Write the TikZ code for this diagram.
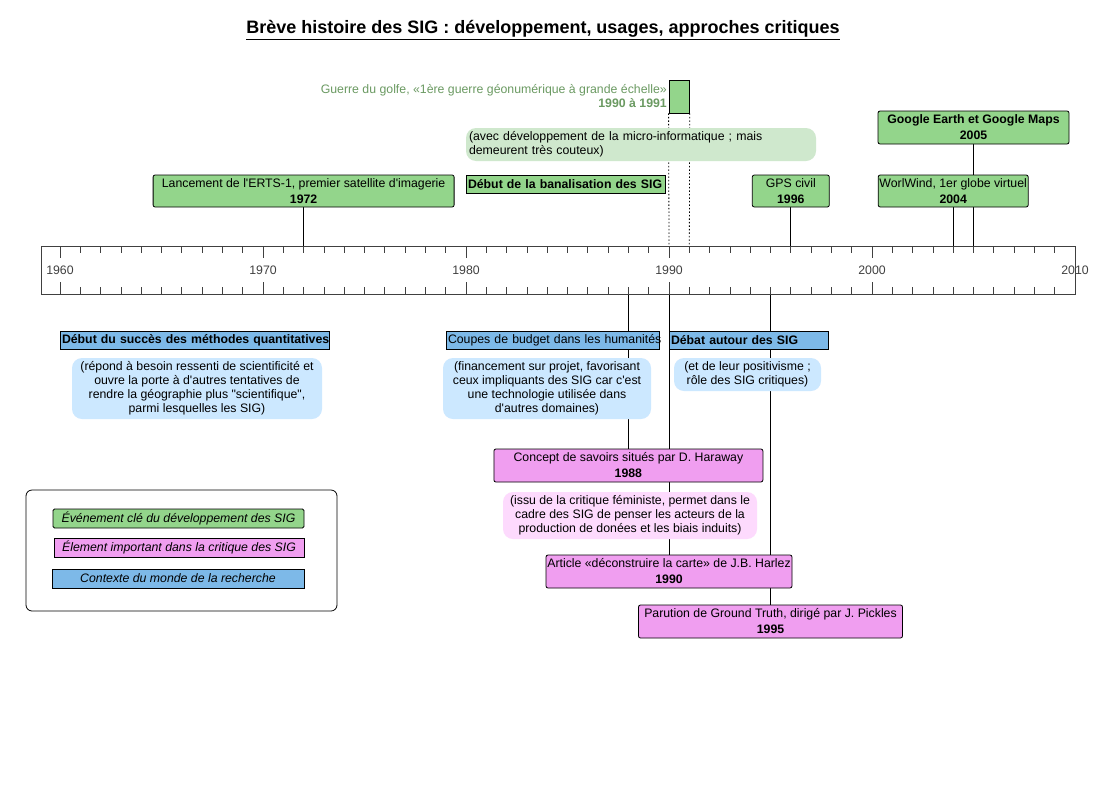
\documentclass[tikz,border=0pt]{standalone}
\usepackage{fontspec}
\setmainfont{Liberation Sans}[Ligatures=TeXOff]
\usetikzlibrary{backgrounds}
\definecolor{evgreen}{HTML}{93D58B}
\definecolor{evpink}{HTML}{F09EF0}
\definecolor{ctxblue}{HTML}{7DB9E8}
\definecolor{notegreen}{HTML}{CFE8CD}
\definecolor{noteblue}{HTML}{CCE8FF}
\definecolor{notepink}{HTML}{FDDAFD}
\definecolor{golfgreen}{HTML}{6B9A62}
\definecolor{axisgray}{HTML}{404040}
\newcommand{\fsz}{\fontsize{12.3}{16}\selectfont}
\newcommand{\fsn}{\fontsize{12.3}{14}\selectfont}
\begin{document}
\begin{tikzpicture}[x=1pt,y=-1pt,
  base/.style={font=\fsz, inner sep=0pt, align=center},
  evt/.style={base, draw=black, line width=0.8pt, rounded corners=2pt, fill=evgreen},
  crit/.style={evt, fill=evpink},
  ctxbox/.style={base, draw=black, line width=0.8pt, fill=ctxblue, align=left, inner xsep=2pt},
  notebox/.style={base, rounded corners=10pt, font=\fsn},
  legitem/.style={base, draw=black, line width=0.8pt, font=\fsn\itshape},
  conn/.style={line width=0.8pt, black},
  axisline/.style={line width=0.8pt, axisgray},
]
\path[use as bounding box] (0,0) rectangle (1115,790);

% title
\node[font=\fontsize{18}{21}\selectfont\bfseries] (title) at (543,30) {\underline{Brève histoire des SIG : développement, usages, approches critiques}};

% axis
\draw[axisline] (41,246) rectangle (1075,294);
\foreach \i in {0,...,50}{
  \pgfmathsetmacro\xx{60+\i*20.3}
  \pgfmathsetmacro\ll{mod(\i,10)==0 ? 12 : 7}
  \draw[axisline] (\xx,246) -- ++(0,\ll);
  \draw[axisline] (\xx,294) -- ++(0,-\ll);
}
\foreach \yr in {1960,1970,...,2010}{
  \pgfmathsetmacro\xx{60+(\yr-1960)*20.3}
  \node[font=\fontsize{12.3}{14}\selectfont, text=axisgray] (lab\yr) at (\xx,270) {\yr};
}
\coordinate (t1972) at (303.6,246);
\coordinate (t1990) at (669,246);
\coordinate (t1991) at (689.3,246);
\coordinate (t1996) at (790.8,246);
\coordinate (t2004) at (953.2,246);
\coordinate (t2005) at (973.5,246);
\coordinate (b1988) at (628.4,294);
\coordinate (b1990) at (669,294);
\coordinate (b1995) at (770.5,294);

% top events
\node[evt, minimum width=301, minimum height=32] (erts) at (303.6,191) {Lancement de l'ERTS-1, premier satellite d'imagerie\\\textbf{1972}};
\node[evt, rounded corners=0pt, align=left, inner xsep=2pt, text width=195, minimum height=18, font=\fsz\bfseries] (banal) at (565.5,184) {\mbox{Début de la banalisation des SIG}};
\node[notebox, fill=notegreen, align=left, inner xsep=3pt, text width=344, minimum height=33] (notemicro) at (641,144.5) {(avec développement de la micro-informatique ; mais\\demeurent très couteux)};
\node[evt, rounded corners=0pt, minimum width=20.3, minimum height=33] (golfe) at (679.15,96.5) {};
\node[base, anchor=east, align=right, text=golfgreen, font=\fsn] (golfetxt) at (667,96) {Guerre du golfe, «1ère guerre géonumérique à grande échelle»\\\textbf{1990 à 1991}};
\node[evt, minimum width=77, minimum height=32] (gps) at (790.8,191) {GPS civil\\\textbf{1996}};
\node[evt, minimum width=150, minimum height=32] (worl) at (953.2,191) {WorlWind, 1er globe virtuel\\\textbf{2004}};
\node[evt, minimum width=191, minimum height=33, font=\fsz\bfseries] (google) at (973.5,127.5) {Google Earth et Google Maps\\2005};

% bottom context
\node[ctxbox, text width=265, minimum height=18, font=\fsz\bfseries] (quanti) at (194.5,340) {\mbox{Début du succès des méthodes quantitatives}};
\node[notebox, fill=noteblue, minimum width=250, minimum height=61] (notequanti) at (197,388.5) {(répond à besoin ressenti de scientificité et\\ouvre la porte à d'autres tentatives de\\rendre la géographie plus "scientifique",\\parmi lesquelles les SIG)};
\node[ctxbox, text width=209, minimum height=18] (coupes) at (552.5,340) {\mbox{Coupes de budget dans les humanités}};
\node[notebox, fill=noteblue, minimum width=208, minimum height=61] (notecoupes) at (547,388.5) {(financement sur projet, favorisant\\ceux impliquants des SIG car c'est\\une technologie utilisée dans\\d'autres domaines)};
\node[ctxbox, text width=155, minimum height=18, font=\fsz\bfseries] (debat) at (748.5,340) {\mbox{Débat autour des SIG}};
\node[notebox, fill=noteblue, minimum width=147, minimum height=33] (notedebat) at (747.5,374.5) {(et de leur positivisme ;\\rôle des SIG critiques)};

% critique events
\node[crit, minimum width=269, minimum height=33] (concept) at (628.4,465.5) {Concept de savoirs situés par D. Haraway\\\textbf{1988}};
\node[notebox, fill=notepink, minimum width=254, minimum height=47] (noteconcept) at (630,515.5) {(issu de la critique féministe, permet dans le\\cadre des SIG de penser les acteurs de la\\production de donées et les biais induits)};
\node[crit, minimum width=246, minimum height=33] (harlez) at (669,571.5) {Article «déconstruire la carte» de J.B. Harlez\\\textbf{1990}};
\node[crit, minimum width=264, minimum height=33] (ground) at (770.5,621.5) {Parution de Ground Truth, dirigé par J. Pickles\\\textbf{1995}};

% legend
\node[draw=black, line width=0.8pt, rounded corners=6pt, minimum width=311, minimum height=121] (legend) at (181.5,550.5) {};
\node[legitem, fill=evgreen, rounded corners=1.5pt, minimum width=251, minimum height=19] (leggreen) at (178.5,518.5) {Événement clé du développement des SIG};
\node[legitem, fill=evpink, minimum width=250, minimum height=19] (legpink) at (179,547.5) {Élement important dans la critique des SIG};
\node[legitem, fill=ctxblue, minimum width=252, minimum height=19] (legblue) at (178,578.5) {Contexte du monde de la recherche};

% connectors
\begin{scope}[on background layer]
  \fill[white] (0,0) rectangle (1115,790);
  \draw[conn] (erts.south) -- (t1972);
  \draw[conn] (gps.south) -- (t1996);
  \draw[conn] (worl.south) -- (t2004);
  \draw[conn] (google.south) -- (t2005);
  \draw[conn, dash pattern=on 1.5pt off 2pt] (golfe.south west) -- (t1990);
  \draw[conn, dash pattern=on 1.5pt off 2pt] (golfe.south east) -- (t1991);
  \draw[conn] (b1988) -- (concept.north);
  \draw[conn] (b1990) -- (harlez.north);
  \draw[conn] (b1995) -- (ground.north);
\end{scope}
\end{tikzpicture}
\end{document}
